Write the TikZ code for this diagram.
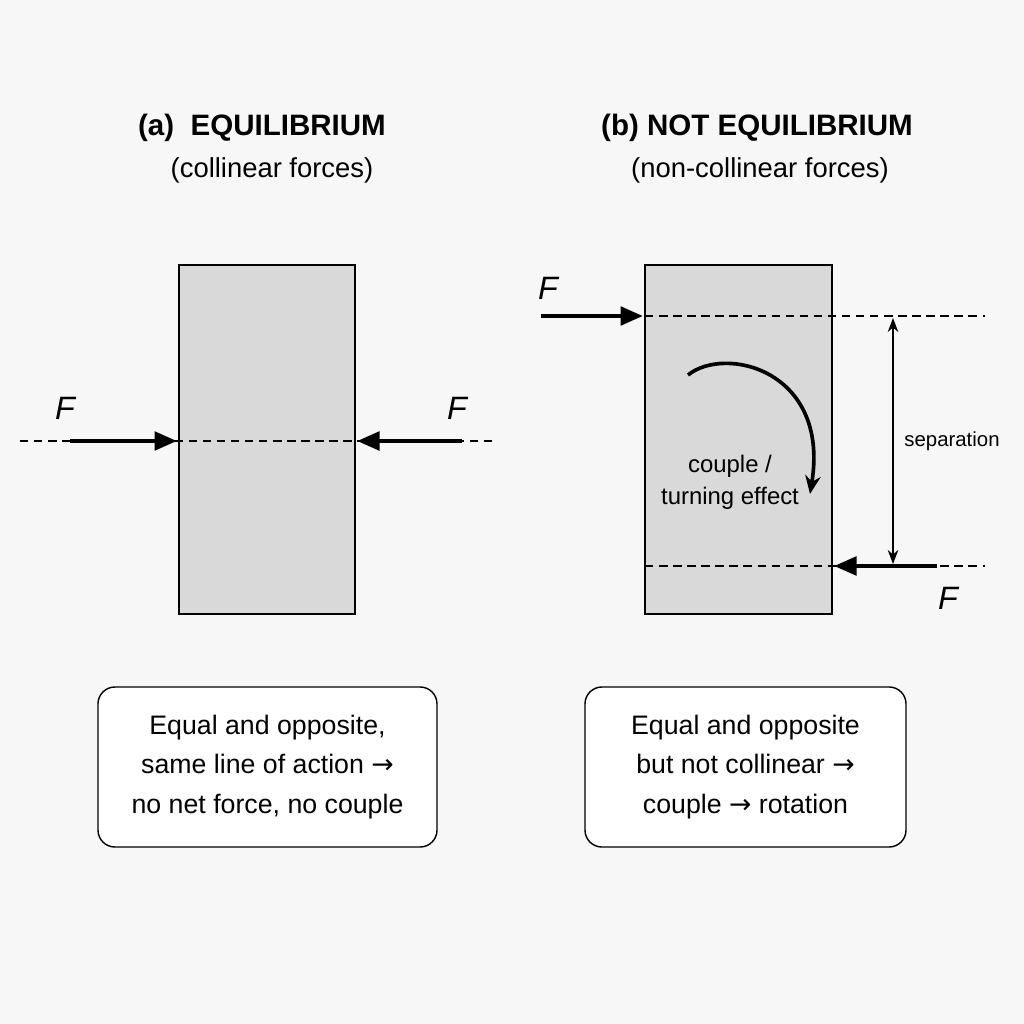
\documentclass[tikz,border=0pt]{standalone}
\usepackage{fontspec}
\setmainfont{Liberation Sans}
\newfontfamily\sym{DejaVu Sans}
\usetikzlibrary{arrows.meta}
\begin{document}
\begin{tikzpicture}[x=0.025cm,y=-0.025cm,
  blk/.style={draw=black,line width=1pt,fill=black!15},
  dline/.style={line width=0.8pt,dash pattern=on 6pt off 4pt},
  force/.style={line width=3.2pt,-{Triangle[length=16pt,width=13pt]}},
  lbl/.style={font=\fontsize{23}{24}\selectfont\itshape},
  ttl/.style={font=\fontsize{21}{24}\selectfont\bfseries},
  sub/.style={font=\fontsize{19.5}{22}\selectfont},
  box/.style={draw=black,line width=1pt,rounded corners=12pt,fill=white,align=center,font=\fontsize{19}{28}\selectfont}]
\fill[white!97!black] (0,0) rectangle (1024,1024);
\useasboundingbox (0,0) rectangle (1024,1024);
% titles
\node[ttl] (ta) at (262,128) {(a)\ \ EQUILIBRIUM};
\node[sub] (sa) at (272,170) {(collinear forces)};
\node[ttl] (tb) at (757,128) {(b) NOT EQUILIBRIUM};
\node[sub] (sb) at (760,170) {(non-collinear forces)};
% left panel
\draw[blk] (179,265) rectangle (355,614);
\coordinate (l0) at (20,441); \coordinate (l1) at (497,441);
\draw[dline] (l0) -- (l1);
\coordinate (la) at (70,441); \coordinate (lb) at (177,441);
\coordinate (ra) at (462,441); \coordinate (rb) at (357,441);
\draw[force] (la) -- (lb);
\draw[force] (ra) -- (rb);
\node[lbl] (fa1) at (65,408) {F};
\node[lbl] (fa2) at (457,408) {F};
% right panel
\draw[blk] (645,265) rectangle (832,614);
\coordinate (t0) at (645,316); \coordinate (t1) at (985,316);
\coordinate (b0) at (645,566); \coordinate (b1) at (985,566);
\draw[dline] (t0) -- (t1);
\draw[dline] (b0) -- (b1);
\coordinate (ta1) at (541,316); \coordinate (ta2) at (643,316);
\coordinate (ba1) at (937,566); \coordinate (ba2) at (834,566);
\draw[force] (ta1) -- (ta2);
\draw[force] (ba1) -- (ba2);
\node[lbl] (fb1) at (548,288) {F};
\node[lbl] (fb2) at (948,598) {F};
\coordinate (s0) at (893,318); \coordinate (s1) at (893,564);
\draw[line width=1.3pt,{Stealth[length=10pt]}-{Stealth[length=10pt]}] (s0) -- (s1);
\node[font=\fontsize{14.5}{16}\selectfont] (sep) at (952,441) {separation};
\coordinate (c0) at (688,375); \coordinate (c1) at (810,494);
\draw[line width=2.6pt,-{Stealth[length=13pt,width=11pt]}] (c0) .. controls (725,345) and (830,370) .. (c1);
\node[align=center,font=\fontsize{17}{23}\selectfont] (cp) at (730,482) {couple /\\turning effect};
% boxes
\node[box,minimum width=339*0.025cm,minimum height=160*0.025cm] (bx1) at (267.5,767) {Equal and opposite,\\same line of action {\sym →}\\no net force, no couple};
\node[box,minimum width=321*0.025cm,minimum height=160*0.025cm] (bx2) at (745.5,767) {Equal and opposite\\but not collinear {\sym →}\\couple {\sym →} rotation};
\end{tikzpicture}
\end{document}
